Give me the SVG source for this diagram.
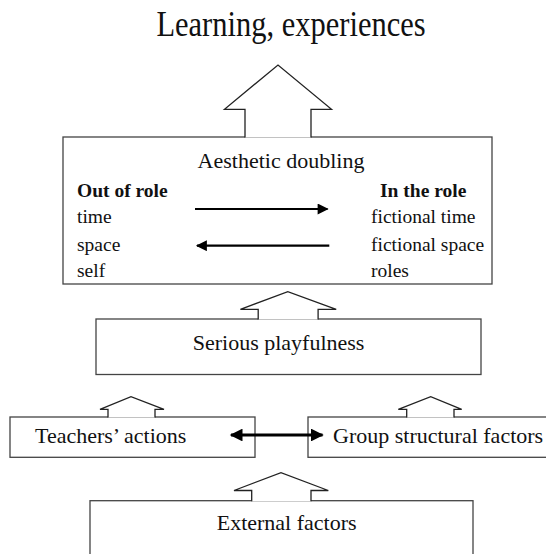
<svg xmlns="http://www.w3.org/2000/svg" width="546" height="554" viewBox="0 0 546 554">
<defs>
<style>
text{font-family:"Liberation Serif","Times New Roman",serif;fill:#111}
.h{font-size:22px}
.b{font-size:19.5px}
.bb{font-size:19.5px;font-weight:bold}
.box{fill:#fff;stroke:#444;stroke-width:1.3}
.up{fill:#fff;stroke:#222;stroke-width:1.3;stroke-linejoin:miter}
.ln{stroke:#000;stroke-width:2.2;fill:none}
.thk{stroke:#000;stroke-width:3.2;fill:none}
</style>
<marker id="ah" viewBox="0 0 10 10" refX="9" refY="5" markerWidth="6" markerHeight="5" markerUnits="strokeWidth" orient="auto-start-reverse">
<path d="M0,0 L10,5 L0,10 z" fill="#000"/>
</marker>
<marker id="ah2" viewBox="0 0 10 10" refX="9" refY="5" markerWidth="4.5" markerHeight="4" markerUnits="strokeWidth" orient="auto-start-reverse">
<path d="M0,0 L10,5 L0,10 z" fill="#000"/>
</marker>
</defs>
<rect width="546" height="554" fill="#fff"/>

<g id="title">
<text transform="translate(291,35.5) scale(1,1.15)" text-anchor="middle" style="font-size:30.5px">Learning, experiences</text>
</g>

<g id="aesthetic">
<rect class="box" x="63" y="137" width="429" height="147"/>
<text class="h" x="281" y="168" text-anchor="middle">Aesthetic doubling</text>
<text class="bb" x="77" y="196.7">Out of role</text>
<text class="b" x="77" y="223.3">time</text>
<text class="b" x="77" y="250.7">space</text>
<text class="b" x="77" y="277">self</text>
<text class="bb" x="380" y="196.7">In the role</text>
<text class="b" x="371" y="223.3">fictional time</text>
<text class="b" x="371" y="250.7">fictional space</text>
<text class="b" x="371" y="277">roles</text>
</g>

<g id="serious">
<rect class="box" x="96" y="319" width="385" height="55.5"/>
<text class="h" x="192.7" y="350">Serious playfulness</text>
</g>

<g id="teachers">
<rect class="box" x="10" y="417" width="245" height="40.3"/>
<text class="h" x="35" y="442.5">Teachers’ actions</text>
</g>

<g id="group">
<rect class="box" x="308" y="417" width="245" height="40.3"/>
<text class="h" x="333" y="442.5">Group structural factors</text>
</g>

<g id="external">
<rect class="box" x="90" y="500.7" width="383" height="70"/>
<text class="h" x="216.7" y="530">External factors</text>
</g>

<g id="connectors">
<path class="up" d="M245,137.6 V109.3 H224.5 L278,65 L331.5,109.3 H311 V137.6"/>
<path class="up" d="M258.2,319.6 V309.3 H240.4 L287.8,291.7 L336.2,309.3 H318.1 V319.6"/>
<path class="up" d="M108,417.6 V409.3 H100 L131,396.7 L164,409.3 H155 V417.6"/>
<path class="up" d="M406.7,417.6 V409.3 H398.3 L430.7,396.7 L461.7,409.3 H454 V417.6"/>
<path class="up" d="M251.7,501.3 V490.5 H234 L281,472.7 L328.3,490.5 H311 V501.3"/>
<line class="ln" x1="195" y1="209" x2="327.5" y2="209" marker-end="url(#ah)"/>
<line class="ln" x1="197" y1="245.7" x2="329.3" y2="245.7" marker-start="url(#ah)"/>
<line class="thk" x1="231" y1="435" x2="322.5" y2="435" marker-start="url(#ah2)" marker-end="url(#ah2)"/>
</g>
</svg>
